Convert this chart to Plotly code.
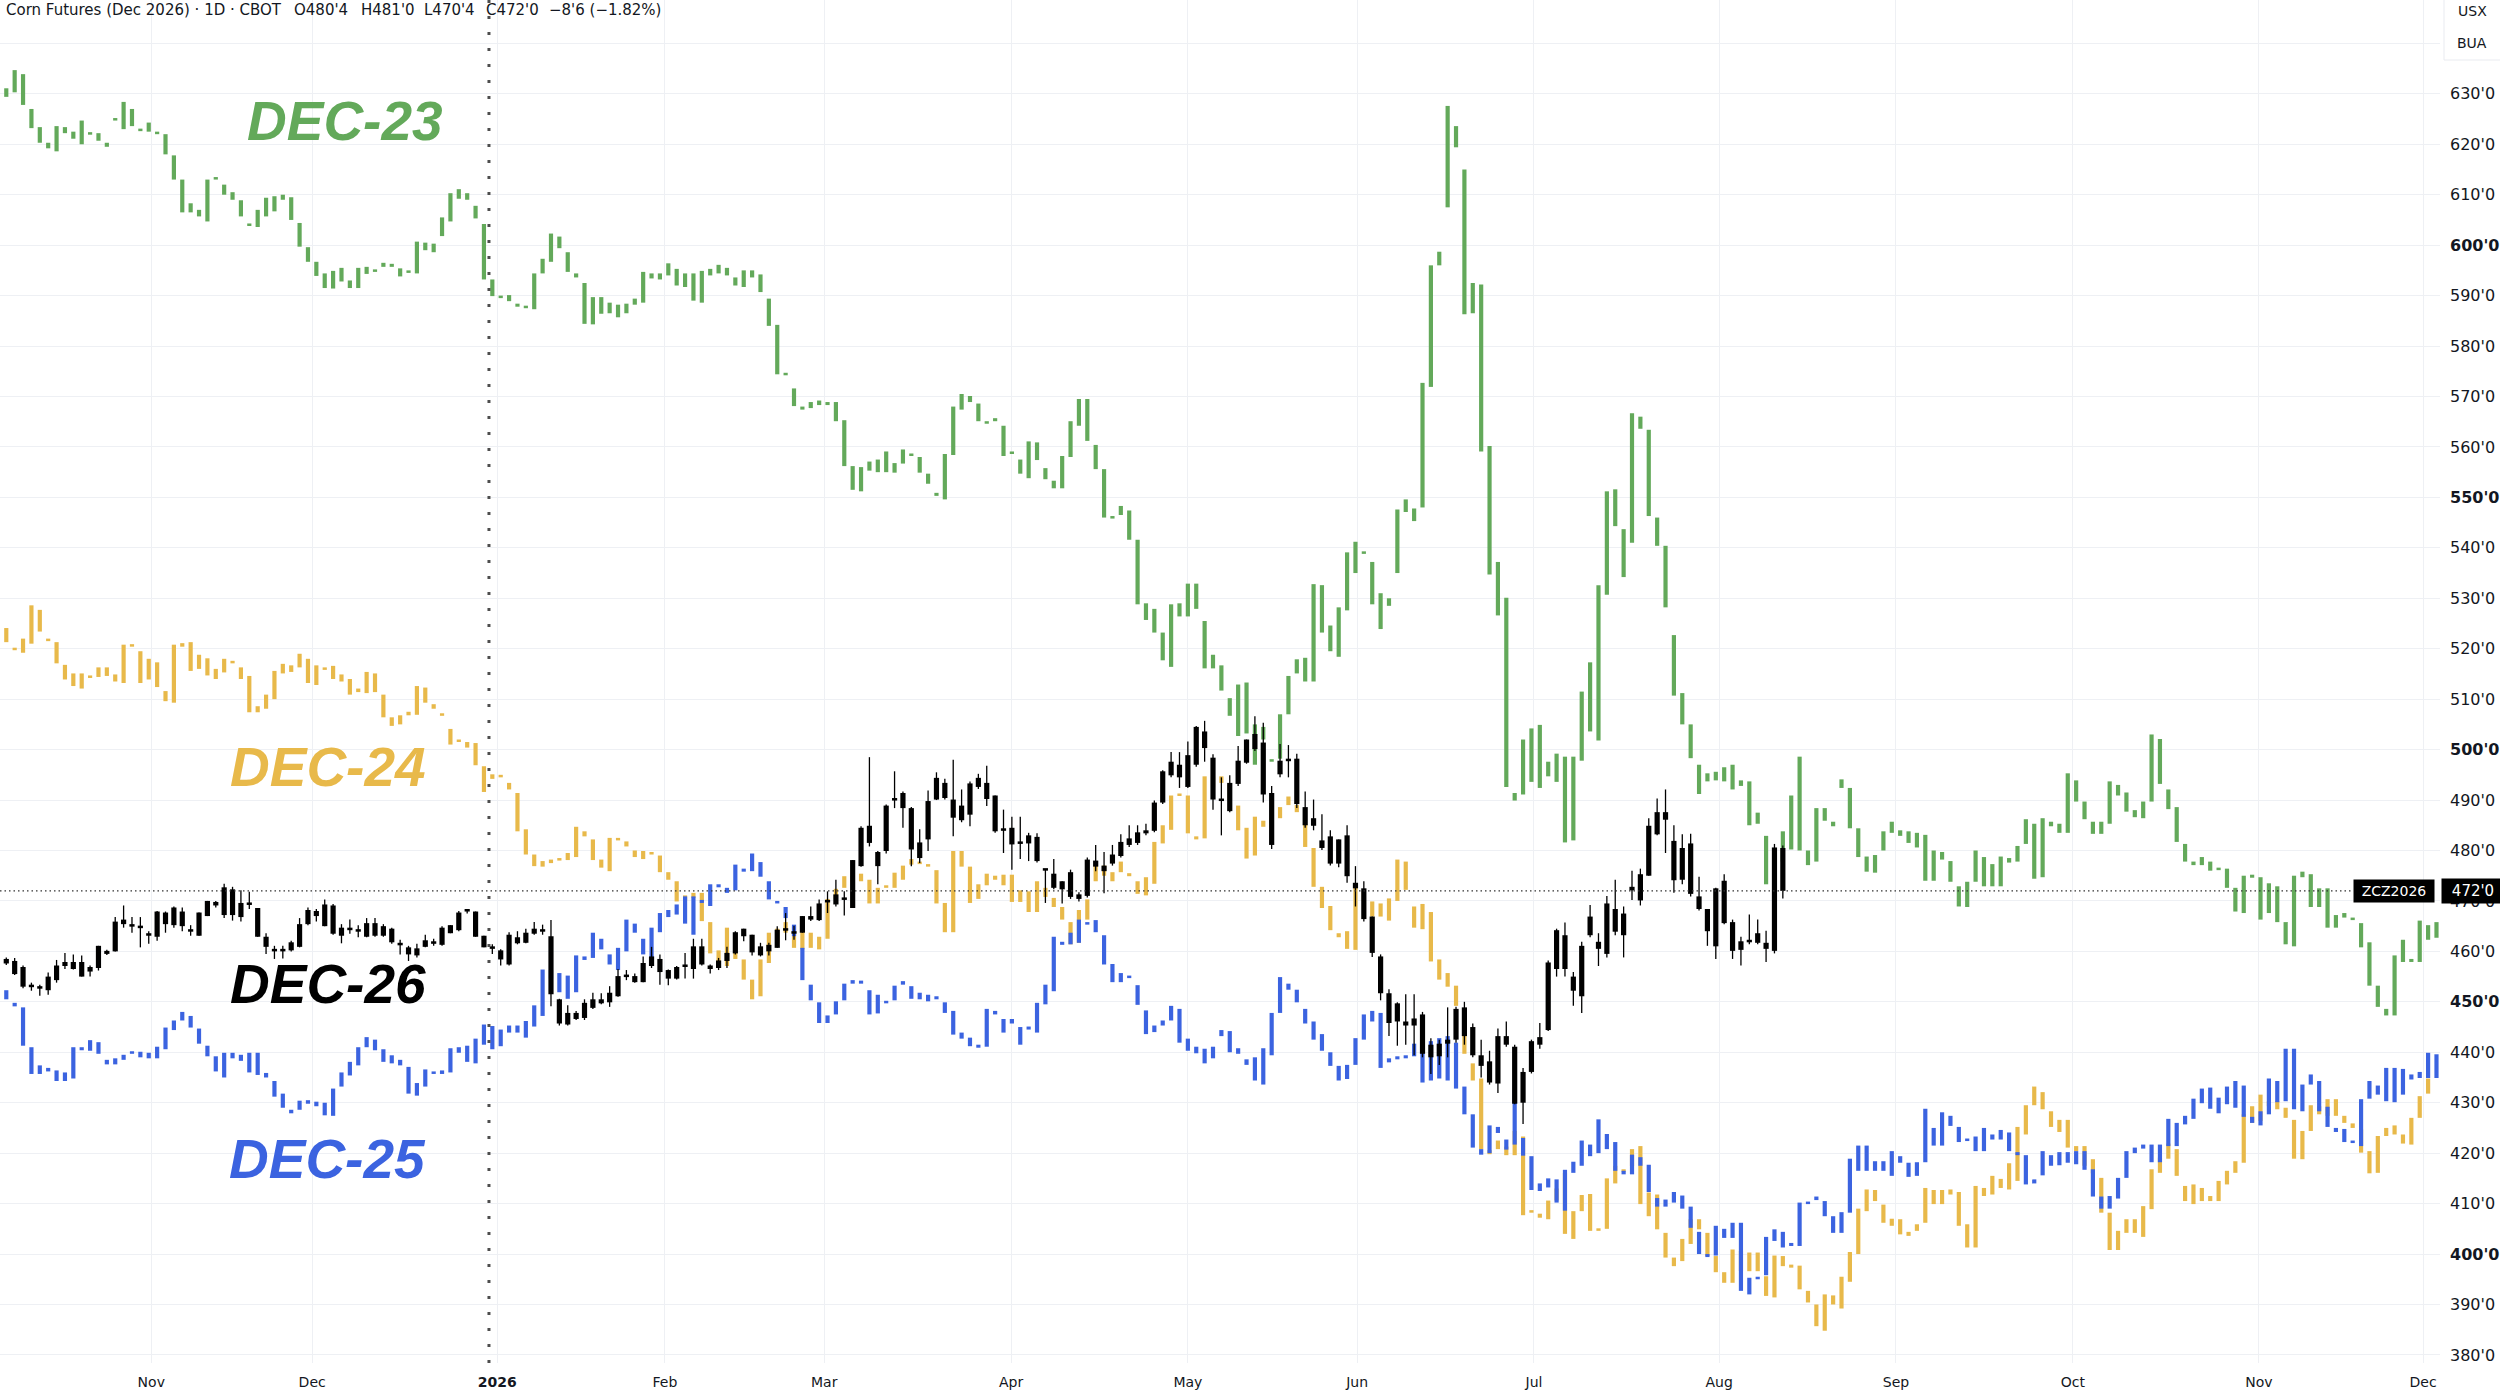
import plotly.graph_objects as go

# ---------------- DATA ----------------
# Slot = trading-day position on the shared time axis (slot 1 = first visible bar).
# Colored contracts are drawn as body-only bars: body low / body high per slot.

dec23_low = [
    629.4, 630.3, 627.8, 623.2, 620.3, 619.2, 618.6, 622.2, 621.1, 620.0,
    621.9, 620.7, 619.5, 624.7, 623.0, 623.6, 622.6, 622.5, 622.0, 618.0,
    613.0, 606.5, 606.5, 605.7, 604.7, 613.0, 610.0, 609.0, 605.7, 603.8,
    603.6, 605.7, 606.7, 609.0, 605.0, 599.7, 596.7, 593.9, 591.5, 591.4,
    592.8, 591.5, 591.5, 594.3, 594.7, 595.7, 595.7, 593.8, 594.5, 594.4,
    599.0, 598.6, 601.8, 604.7, 609.2, 609.0, 605.3, 593.2, 589.9, 589.5,
    588.9, 587.8, 587.5, 587.3, 594.4, 596.7, 599.4, 594.7, 593.6, 584.4,
    584.3, 586.4, 586.5, 585.7, 586.5, 588.2, 588.6, 593.4, 593.2, 594.0,
    592.0, 591.7, 589.0, 588.6, 594.0, 594.4, 594.0, 592.0, 591.7, 593.6,
    590.7, 584.0, 574.4, 574.2, 568.1, 567.4, 567.7, 568.3, 568.3, 565.1,
    556.2, 551.5, 551.2, 555.3, 555.0, 555.0, 554.9, 556.7, 558.2, 554.9,
    552.7, 550.3, 549.6, 558.4, 567.4, 568.9, 565.1, 564.6, 565.1, 558.2,
    558.6, 554.7, 553.8, 557.4, 553.6, 551.8, 551.8, 558.0, 564.2, 561.2,
    555.6, 546.0, 545.8, 546.5, 541.6, 528.8, 525.7, 523.2, 517.7, 516.4,
    526.4, 526.4, 527.9, 516.1, 516.1, 511.7, 506.7, 502.7, 503.2, 497.0,
    502.0, 497.6, 498.2, 507.0, 515.1, 513.5, 513.5, 523.2, 519.5, 518.4,
    527.6, 535.0, 538.8, 528.8, 523.9, 528.5, 535.0, 547.1, 545.3, 548.0,
    571.9, 596.0, 607.5, 619.4, 586.3, 586.5, 559.1, 534.7, 526.6, 492.6,
    489.9, 491.1, 493.6, 492.4, 494.7, 493.6, 481.6, 482.0, 497.8, 503.6,
    501.8, 530.7, 544.3, 534.2, 541.0, 563.6, 546.3, 540.4, 528.2, 510.7,
    505.0, 498.3, 491.2, 493.7, 493.9, 493.7, 492.1, 492.8, 485.0, 485.3,
    473.3, 472.5, 477.8, 480.2, 480.0, 477.1, 477.8, 485.9, 484.8, 492.4,
    484.4, 478.7, 475.8, 475.6, 480.0, 483.5, 482.9, 481.5, 480.6, 474.0,
    474.0, 478.2, 473.8, 468.9, 468.8, 473.8, 472.9, 472.9, 472.9, 477.6,
    477.8, 481.3, 474.4, 474.7, 484.8, 483.5, 483.5, 489.7, 486.2, 483.3,
    483.3, 485.3, 490.9, 487.7, 486.6, 486.4, 489.7, 493.2, 488.2, 481.7,
    477.8, 477.1, 477.1, 476.0, 476.1, 472.6, 467.9, 467.6, 474.6, 466.3,
    467.6, 465.8, 461.4, 461.0, 474.7, 468.8, 468.8, 464.7, 464.7, 466.7,
    466.2, 460.8, 453.2, 449.0, 447.3, 447.3, 457.9, 457.9, 457.9, 462.3, 462.7,
]
dec23_high = [
    631.1, 634.7, 633.9, 627.0, 623.4, 620.3, 623.6, 623.4, 622.5, 624.7,
    622.4, 622.2, 620.3, 625.1, 628.4, 627.0, 623.0, 624.3, 622.4, 622.0,
    617.8, 613.0, 608.3, 607.0, 613.0, 613.4, 612.0, 610.5, 608.9, 604.2,
    607.0, 609.4, 609.7, 610.0, 609.5, 604.4, 599.6, 596.7, 594.4, 594.9,
    595.5, 593.0, 595.5, 595.7, 595.1, 596.5, 596.3, 595.4, 594.9, 600.7,
    600.5, 600.3, 605.5, 610.3, 611.1, 610.3, 607.8, 604.2, 593.2, 589.9,
    590.1, 588.4, 587.9, 594.4, 597.3, 602.3, 601.7, 598.6, 594.4, 592.5,
    589.7, 589.7, 588.6, 588.2, 588.4, 589.4, 594.7, 594.4, 594.4, 596.4,
    595.3, 594.4, 594.4, 594.9, 595.3, 596.1, 595.5, 593.6, 595.0, 595.0,
    594.2, 589.4, 584.2, 574.6, 571.6, 568.0, 568.9, 569.2, 568.9, 568.9,
    565.3, 556.2, 556.0, 557.1, 557.5, 559.1, 556.8, 559.5, 558.6, 558.0,
    554.7, 550.9, 558.6, 568.0, 570.5, 570.1, 568.6, 565.0, 565.7, 564.2,
    559.1, 557.5, 561.1, 560.9, 555.8, 553.3, 558.2, 565.1, 569.5, 569.5,
    560.4, 555.6, 546.3, 548.3, 547.4, 541.6, 529.0, 527.9, 523.2, 528.8,
    529.0, 532.9, 532.9, 525.5, 518.8, 516.7, 510.2, 512.9, 513.3, 505.0,
    504.5, 498.0, 507.0, 514.6, 517.9, 518.2, 532.8, 532.6, 524.6, 528.2,
    539.1, 541.2, 539.2, 537.2, 531.0, 530.0, 547.6, 549.6, 547.8, 572.7,
    596.0, 598.7, 627.6, 623.6, 615.0, 592.5, 592.2, 560.2, 537.2, 530.1,
    491.4, 502.0, 504.2, 504.9, 497.6, 499.2, 498.6, 498.6, 511.5, 517.3,
    532.6, 551.2, 551.6, 543.7, 566.7, 566.0, 563.4, 546.0, 540.4, 522.7,
    511.2, 505.0, 497.0, 495.3, 495.6, 496.5, 497.0, 493.9, 493.7, 487.5,
    482.9, 479.4, 483.8, 490.9, 498.6, 480.0, 488.4, 488.4, 485.7, 494.1,
    492.4, 484.4, 478.8, 479.1, 483.8, 485.7, 484.0, 483.8, 483.5, 483.1,
    480.0, 479.7, 477.9, 472.9, 473.8, 480.0, 478.7, 477.3, 478.8, 478.5,
    480.9, 486.2, 485.3, 486.4, 485.7, 485.3, 495.3, 493.9, 489.7, 485.7,
    485.7, 493.7, 493.0, 491.5, 488.0, 489.7, 503.0, 502.1, 492.1, 488.6,
    481.3, 477.8, 478.7, 477.8, 476.6, 476.4, 472.6, 475.0, 475.2, 474.7,
    473.5, 472.9, 465.8, 475.0, 475.8, 475.3, 472.5, 472.5, 467.2, 467.6,
    466.6, 465.6, 461.8, 453.2, 448.6, 459.2, 462.3, 458.5, 466.1, 465.2, 465.8,
]

dec24_low = [
    521.3, 519.7, 519.2, 521.0, 523.4, 521.5, 517.1, 513.9, 512.6, 512.1,
    514.2, 514.4, 514.6, 513.5, 513.2, 520.4, 513.2, 513.9, 512.4, 509.6,
    509.3, 520.4, 515.6, 516.0, 514.7, 514.0, 515.3, 517.1, 514.0, 507.4,
    507.4, 508.1, 510.0, 515.1, 515.4, 516.3, 513.2, 512.8, 515.8, 514.0,
    513.5, 510.9, 511.4, 511.2, 511.4, 506.4, 504.7, 505.0, 506.8, 506.9,
    509.3, 508.1, 506.7, 501.0, 501.5, 500.4, 496.9, 491.6, 494.2, 494.5,
    492.1, 483.8, 479.2, 476.9, 476.8, 477.5, 478.0, 478.1, 478.7, 482.8,
    478.1, 476.6, 475.9, 482.0, 480.8, 478.7, 478.3, 479.2, 475.7, 474.2,
    469.9, 470.1, 470.6, 466.0, 459.6, 458.0, 457.1, 458.5, 454.4, 450.5,
    451.1, 457.7, 461.7, 463.7, 460.7, 460.4, 460.7, 460.4, 462.5, 470.3,
    472.6, 473.7, 473.9, 469.5, 469.5, 472.6, 472.6, 474.2, 477.2, 477.3,
    476.8, 469.5, 463.8, 463.8, 476.8, 469.6, 470.4, 473.1, 474.2, 473.1,
    469.8, 469.8, 467.8, 467.8, 470.8, 468.8, 466.3, 461.4, 461.7, 466.3,
    473.9, 475.0, 473.9, 475.7, 474.9, 471.4, 471.1, 473.4, 481.4, 484.1,
    490.8, 483.4, 482.2, 482.4, 492.5, 493.4, 490.0, 484.0, 478.4, 479.0,
    484.7, 485.5, 486.4, 489.0, 487.6, 480.7, 472.8, 468.6, 464.2, 462.8,
    460.5, 460.3, 470.0, 466.9, 466.9, 466.1, 470.0, 472.2, 464.7, 464.4,
    458.0, 454.4, 453.0, 449.2, 439.7, 434.4, 420.8, 419.8, 420.8, 419.6,
    419.6, 407.7, 408.2, 407.2, 406.9, 410.6, 404.0, 403.0, 408.5, 404.6,
    404.6, 405.0, 414.0, 416.3, 417.4,
    409.9, 407.5, 404.9, 399.3, 397.6, 398.6, 402.0, 404.9, 399.6, 396.4,
    394.3, 394.3, 396.6, 396.6, 396.6, 391.7, 391.4, 397.6, 397.3, 393.0,
    390.4, 385.7, 384.8, 390.0, 389.2, 394.5, 400.0, 408.5, 410.5, 406.2,
    405.6, 403.9, 403.6, 404.6, 406.2, 409.9, 409.9, 411.8, 405.6, 401.3,
    401.3, 411.5, 411.8, 413.1, 412.8, 414.5, 423.7, 429.5, 428.7, 425.2,
    424.2, 421.1, 420.4, 417.5, 416.0, 408.2, 400.8, 400.8, 404.2, 404.2,
    403.4, 408.9, 416.1, 418.9, 415.5, 410.5, 409.9, 410.5, 410.5, 410.5,
    413.8, 416.1, 418.1, 426.0, 426.4, 429.3, 428.7, 427.0, 418.9, 418.8,
    424.4, 427.7, 427.4, 427.4, 426.0, 425.0, 420.1, 416.0, 416.1, 423.4,
    423.7, 421.9, 421.7, 427.0, 431.8,
]
dec24_high = [
    524.1, 520.2, 522.0, 528.6, 527.7, 522.0, 521.3, 516.8, 515.1, 515.1,
    514.6, 516.3, 516.3, 514.9, 520.8, 520.8, 519.5, 518.0, 517.3, 511.6,
    520.8, 521.1, 521.3, 518.8, 518.1, 516.0, 518.0, 517.5, 516.3, 514.6,
    508.6, 510.9, 515.6, 517.0, 516.7, 519.0, 518.0, 516.7, 516.2, 516.6,
    514.9, 514.0, 512.1, 515.4, 515.1, 510.9, 506.4, 506.8, 507.5, 512.6,
    512.3, 509.0, 507.1, 504.1, 501.9, 501.5, 501.3, 496.7, 495.1, 494.9,
    493.4, 491.4, 484.2, 479.2, 477.9, 478.2, 478.4, 479.5, 484.7, 483.8,
    482.2, 478.2, 482.5, 482.4, 481.8, 480.0, 479.9, 479.5, 479.0, 475.7,
    473.9, 471.1, 471.6, 471.6, 465.8, 460.2, 464.7, 459.7, 458.4, 454.4,
    458.4, 463.7, 464.5, 465.8, 465.0, 465.0, 463.7, 462.9, 470.4, 472.4,
    474.9, 475.0, 475.4, 474.2, 472.6, 473.0, 475.6, 477.0, 478.3, 477.7,
    477.2, 476.1, 469.6, 479.9, 479.9, 476.8, 473.3, 475.4, 475.0, 475.2,
    475.2, 472.1, 471.9, 473.9, 472.6, 470.6, 468.8, 465.8, 468.2, 470.3,
    477.2, 477.0, 475.7, 477.8, 475.5, 473.9, 474.7, 481.7, 485.0, 490.9,
    491.1, 490.9, 482.8, 494.7, 494.7, 494.7, 493.0, 488.9, 484.5, 486.7,
    485.9, 486.5, 488.6, 490.7, 489.0, 485.3, 480.5, 472.8, 469.0, 463.6,
    464.0, 473.2, 472.0, 469.9, 469.5, 470.5, 478.2, 477.8, 468.9, 469.4,
    467.8, 458.4, 455.7, 453.2, 444.9, 437.8, 434.8, 420.6, 422.5, 421.3,
    424.4, 423.3, 408.6, 408.0, 410.6, 413.0, 416.1, 408.5, 411.7, 411.9,
    405.0, 415.0, 417.5, 416.7, 420.8,
    421.4, 412.2, 411.8, 404.2, 399.3, 403.0, 406.9, 406.9, 404.2, 399.6,
    396.4, 400.9, 400.6, 400.3, 400.3, 395.6, 399.7, 399.6, 397.9, 397.7,
    392.7, 390.0, 392.0, 391.8, 395.5, 400.4, 409.0, 412.8, 412.7, 409.8,
    407.0, 406.9, 404.4, 405.9, 413.1, 412.7, 412.7, 412.8, 412.3, 405.9,
    413.5, 413.1, 415.5, 414.9, 418.0, 425.2, 429.5, 433.2, 432.1, 428.3,
    426.6, 426.6, 421.4, 421.4, 418.8, 415.1, 408.2, 404.6, 406.9, 406.9,
    409.5, 416.8, 419.1, 421.9, 420.8, 413.5, 413.8, 413.1, 411.5, 414.5,
    416.5, 418.4, 427.7, 429.3, 431.6, 430.3, 430.3, 429.0, 426.6, 424.4,
    429.5, 429.3, 430.7, 430.7, 427.4, 425.9, 424.7, 420.4, 423.4, 425.0,
    425.5, 423.7, 427.0, 431.3, 434.8,
]

dec25_low = [
    450.5, 449.1, 441.3, 435.7, 435.7, 436.2, 434.3, 434.3, 434.8, 440.4,
    440.3, 439.7, 437.6, 437.6, 438.5, 439.7, 439.0, 438.8, 438.8, 440.6,
    444.4, 446.3, 444.9, 441.7, 439.2, 436.2, 435.0, 438.8, 438.3, 436.0,
    435.5, 435.0, 431.2, 429.0, 427.9, 428.6, 429.8, 429.3, 427.5, 427.4,
    433.2, 435.4, 437.4, 441.0, 440.4, 438.1, 437.8, 437.4, 431.8, 431.4,
    433.2, 435.7, 435.7, 436.0, 439.9, 438.1, 437.8, 441.5, 440.6, 441.2,
    443.9, 443.9, 442.9, 445.1, 447.2, 454.6, 451.9, 450.6, 451.9, 458.3,
    458.7, 460.4, 457.4, 456.3, 460.0, 463.7, 459.4, 458.4, 463.8, 466.8,
    467.3, 465.5, 463.3, 469.6, 469.0, 472.7, 471.6, 472.1, 475.8, 475.9,
    474.8, 470.3, 469.5, 466.6, 463.0, 454.3, 450.3, 445.8, 445.8, 447.5,
    450.3, 453.6, 453.6, 447.5, 447.7, 449.7, 450.3, 453.4, 450.6, 450.5,
    450.1, 450.5, 447.8, 443.5, 442.7, 441.2, 440.9, 441.1, 447.5, 443.9,
    445.7, 441.5, 444.5, 443.9, 449.5, 452.1, 461.3, 461.4, 461.7, 465.3,
    463.8, 457.4, 453.9, 453.9, 454.7, 449.4, 443.6, 444.0, 445.3, 446.3,
    441.9, 440.3, 439.8, 437.8, 438.8, 443.2, 440.0, 439.7, 437.5, 434.4,
    433.6, 439.4, 447.8, 452.4, 449.9, 445.7, 442.5, 440.3, 437.3, 434.4,
    434.7, 437.5, 442.5, 446.1, 436.9, 438.0, 438.6, 438.8, 439.2, 434.0,
    434.4, 434.8, 434.4, 432.8, 427.7, 421.1, 419.7, 420.0, 424.0, 420.7,
    421.7, 419.5, 412.7, 412.5, 413.2, 410.2, 408.6, 416.1, 417.5, 419.4,
    420.0, 420.8, 416.5, 415.8, 415.8, 417.5, 412.3, 409.4, 409.4, 410.2,
    409.0, 405.2, 400.0, 399.4, 399.7, 403.2, 403.2, 392.7, 392.0, 395.0,
    395.8, 402.6, 401.3, 401.6, 401.6, 409.9, 410.7, 407.5, 404.2, 404.2,
    408.2, 416.5, 416.5, 416.5, 416.5, 415.5, 418.1, 415.3, 415.5, 418.2,
    421.5, 421.5, 425.4, 422.2, 422.4, 420.4, 420.4, 422.7, 422.7, 420.4,
    419.6, 413.8, 414.0, 415.6, 417.5, 417.6, 418.1, 417.8, 416.7, 411.4,
    409.0, 409.0, 411.0, 415.1, 420.0, 420.9, 418.2, 418.2, 421.4, 421.4,
    425.7, 426.8, 429.9, 428.8, 427.9, 429.7, 429.0, 427.2, 426.0, 425.5,
    427.7, 430.1, 430.3, 428.7, 428.3, 433.6, 428.3, 425.2, 424.2, 422.2,
    422.0, 421.4, 430.8, 431.6, 430.3, 430.1, 431.6, 434.6, 434.9, 434.9, 434.9,
]
dec25_high = [
    452.3, 449.8, 448.9, 441.0, 437.4, 436.9, 436.4, 436.0, 441.0, 441.0,
    442.4, 442.0, 438.5, 438.8, 439.5, 440.1, 440.1, 439.9, 441.1, 444.9,
    446.3, 448.0, 447.2, 444.7, 441.3, 439.2, 439.9, 439.9, 439.5, 439.9,
    439.9, 435.9, 434.3, 431.8, 428.6, 430.4, 430.5, 430.2, 430.0, 432.8,
    436.0, 438.1, 441.0, 443.0, 442.5, 440.6, 439.4, 438.5, 437.1, 433.9,
    436.6, 436.2, 436.4, 440.8, 441.0, 441.3, 442.7, 445.5, 445.2, 444.5,
    445.3, 445.3, 446.2, 449.3, 456.4, 456.3, 455.7, 455.2, 459.2, 459.0,
    463.7, 462.5, 459.4, 460.7, 466.3, 465.5, 462.5, 464.7, 467.6, 468.2,
    469.3, 470.9, 470.9, 470.2, 473.3, 473.3, 472.6, 477.2, 476.4, 479.4,
    477.7, 473.9, 469.8, 468.8, 465.3, 460.7, 453.4, 449.9, 447.3, 450.1,
    453.6, 454.3, 454.2, 452.3, 451.4, 450.1, 453.2, 454.1, 453.1, 451.8,
    451.4, 451.1, 449.9, 448.2, 443.9, 442.9, 441.5, 448.6, 448.2, 446.6,
    446.6, 445.0, 445.1, 449.8, 453.4, 462.9, 461.9, 463.7, 466.3, 465.7,
    466.2, 463.2, 457.5, 455.7, 455.1, 453.3, 448.3, 445.3, 446.3, 449.2,
    448.6, 442.7, 441.1, 440.7, 441.1, 444.4, 444.2, 440.8, 438.6, 439.0,
    440.8, 447.8, 454.9, 453.6, 452.4, 448.6, 446.1, 443.6, 440.0, 437.3,
    437.5, 442.8, 447.5, 448.2, 447.8, 438.8, 439.2, 439.4, 441.7, 441.9,
    442.2, 442.8, 443.2, 441.9, 433.2, 427.7, 420.8, 425.5, 425.2, 422.7,
    432.5, 423.0, 419.4, 414.0, 415.0, 414.8, 416.7, 418.3, 422.5, 421.7,
    426.7, 423.8, 422.2, 416.5, 419.7, 419.2, 417.7, 411.1, 410.8, 412.3,
    411.6, 409.4, 404.4, 400.0, 405.6, 405.0, 406.2, 406.2, 395.3, 395.4,
    403.4, 404.9, 404.4, 402.2, 410.2, 410.2, 411.4, 410.5, 407.5, 408.3,
    418.9, 421.5, 421.5, 418.4, 418.4, 420.4, 419.4, 418.1, 418.2, 428.8,
    425.0, 428.1, 427.4, 425.2, 422.7, 423.3, 425.0, 423.7, 424.6, 424.1,
    420.2, 419.6, 414.8, 420.4, 419.6, 420.2, 420.2, 420.4, 420.4, 416.8,
    411.4, 411.5, 415.1, 420.4, 421.1, 421.7, 421.7, 421.7, 426.8, 426.0,
    427.4, 430.8, 432.8, 433.0, 431.0, 433.2, 434.3, 433.4, 427.2, 428.3,
    434.8, 434.3, 440.7, 440.7, 433.6, 435.6, 434.3, 429.2, 425.0, 424.8,
    422.2, 430.7, 434.3, 433.4, 436.9, 436.9, 436.7, 435.6, 436.1, 439.9, 439.6,
]

# DEC-26 (main contract, black candles): body top / body bottom / high / low
dec26_body_top = [
    458.5, 458.1, 456.9, 453.2, 452.9, 455.0, 457.2, 457.9, 457.9, 457.9,
    456.9, 461.1, 460.1, 465.9, 466.3, 465.2, 464.9, 463.6, 467.9, 467.7,
    468.7, 467.9, 464.2, 467.7, 470.0, 469.8, 472.7, 472.3, 469.6, 469.5,
    468.6, 462.9, 460.3, 460.3, 461.8, 465.4, 468.2, 468.0, 469.3, 469.1,
    464.7, 464.5, 464.2, 465.6, 465.6, 465.0, 464.5, 461.5, 460.8, 460.6,
    462.2, 461.8, 464.7, 465.2, 467.7, 468.2, 467.9, 463.1, 460.8, 460.2,
    463.3, 462.8, 463.7, 464.5, 464.1, 463.0, 450.5, 447.8, 447.8, 449.8,
    450.5, 450.5, 451.8, 455.1, 455.2, 455.1, 457.7, 459.0, 458.5, 456.3,
    456.9, 457.2, 461.0, 461.0, 457.2, 458.2, 459.7, 463.8, 464.5, 463.3,
    461.0, 461.3, 464.3, 464.4, 463.8, 467.0, 467.0, 469.5, 470.0, 471.3,
    470.5, 478.1, 484.5, 484.9, 479.7, 488.9, 490.2, 491.4, 488.4, 481.6,
    489.8, 494.4, 493.4, 490.1, 488.9, 493.3, 494.4, 493.4, 490.9, 484.1,
    484.5, 481.5, 483.0, 482.7, 476.2, 475.4, 473.9, 475.7, 471.3, 478.2,
    478.0, 477.0, 479.2, 481.7, 482.4, 483.6, 484.0, 489.5, 495.7, 497.6,
    497.0, 498.9, 504.5, 503.6, 498.4, 490.1, 493.4, 497.8, 502.0, 503.1,
    501.4, 491.4, 497.8, 498.0, 498.2, 488.6, 486.4, 482.0, 482.8, 482.2,
    483.0, 473.6, 472.5, 466.9, 459.0, 451.7, 449.7, 446.1, 446.7, 447.5,
    441.5, 441.7, 442.5, 448.6, 448.9, 445.0, 439.4, 438.2, 443.2, 443.2,
    441.1, 436.1, 442.2, 443.0, 457.8, 464.2, 463.2, 455.0, 461.1, 466.9,
    461.9, 469.5, 468.4, 467.5, 472.8, 475.3, 484.9, 487.6, 487.6, 481.9,
    480.5, 481.4, 470.9, 468.4, 472.5, 474.0, 465.8, 462.0, 462.1, 463.6,
    461.7, 480.6, 480.5,
]
dec26_body_bot = [
    457.6, 455.5, 453.0, 452.9, 452.6, 452.3, 454.3, 457.1, 456.5, 455.0,
    456.0, 456.7, 459.5, 460.0, 465.4, 464.9, 464.6, 463.1, 462.9, 465.4,
    465.2, 465.0, 463.9, 463.1, 467.0, 469.1, 467.2, 467.2, 466.8, 469.2,
    462.9, 460.9, 460.0, 460.0, 460.2, 460.9, 465.4, 467.0, 465.0, 463.5,
    463.1, 464.2, 463.9, 462.9, 463.1, 463.1, 461.8, 461.2, 459.4, 459.2,
    460.9, 461.5, 461.3, 463.6, 464.2, 467.9, 462.9, 460.8, 460.5, 458.4,
    457.4, 461.6, 461.7, 463.5, 463.9, 451.5, 445.7, 445.5, 446.6, 446.8,
    448.8, 449.7, 449.9, 451.1, 454.9, 453.9, 453.9, 457.1, 455.9, 454.6,
    454.6, 456.9, 456.5, 457.4, 456.5, 456.7, 458.1, 459.6, 463.0, 459.8,
    459.2, 460.0, 460.7, 464.1, 463.5, 463.7, 466.3, 466.2, 469.7, 469.3,
    470.2, 468.6, 476.9, 481.5, 476.9, 479.9, 489.9, 488.4, 480.2, 478.5,
    482.2, 490.1, 490.4, 486.5, 486.0, 487.1, 492.6, 490.2, 483.8, 483.9,
    481.2, 481.3, 481.4, 477.9, 476.0, 472.6, 472.3, 470.8, 470.4, 471.0,
    476.8, 475.9, 477.4, 478.9, 481.1, 481.5, 483.4, 483.9, 489.5, 494.9,
    494.5, 492.6, 497.0, 500.3, 490.1, 489.8, 487.8, 493.2, 497.4, 500.1,
    491.1, 481.1, 495.1, 497.7, 489.2, 485.0, 484.9, 480.5, 477.4, 477.4,
    474.9, 472.5, 466.4, 459.7, 451.7, 445.8, 446.1, 445.3, 445.3, 439.7,
    439.0, 439.2, 441.7, 442.5, 443.2, 439.4, 437.3, 434.0, 433.8, 441.5,
    429.8, 430.0, 436.1, 441.5, 444.4, 456.5, 456.5, 452.2, 451.1, 463.2,
    460.5, 459.5, 463.9, 463.2, 472.1, 470.1, 475.0, 483.2, 486.1, 474.1,
    474.2, 471.4, 468.4, 464.0, 461.0, 465.6, 460.1, 460.3, 461.8, 461.7,
    460.5, 460.1, 472.0,
]
dec26_high = [
    458.8, 458.7, 457.2, 453.8, 453.4, 455.8, 458.3, 459.7, 459.4, 459.2,
    457.2, 461.1, 460.3, 466.8, 469.1, 466.8, 466.8, 464.0, 468.0, 467.9,
    468.9, 468.7, 465.2, 467.7, 470.0, 470.0, 473.4, 472.8, 472.1, 471.8,
    468.6, 463.6, 461.1, 461.1, 462.1, 466.6, 468.7, 468.4, 470.3, 469.4,
    465.4, 466.3, 465.2, 466.6, 466.6, 465.4, 464.7, 462.3, 461.1, 461.5,
    463.3, 462.5, 465.0, 465.2, 468.0, 468.4, 467.9, 463.1, 461.4, 460.4,
    463.8, 464.0, 464.5, 465.8, 465.3, 466.2, 450.6, 449.3, 448.2, 450.5,
    451.8, 451.7, 453.1, 456.5, 456.3, 455.6, 459.0, 460.9, 459.4, 456.4,
    457.1, 459.7, 462.5, 462.5, 457.4, 458.7, 460.9, 464.0, 464.5, 463.3,
    461.7, 461.7, 465.0, 467.6, 465.1, 467.0, 468.9, 470.3, 471.9, 474.2,
    471.9, 478.1, 484.8, 498.5, 479.9, 489.1, 495.7, 491.7, 488.6, 484.2,
    491.9, 495.5, 494.2, 498.0, 492.1, 493.7, 495.2, 496.8, 490.9, 488.1,
    486.7, 486.7, 483.5, 483.4, 476.3, 478.3, 473.9, 476.2, 471.7, 478.6,
    481.1, 479.7, 481.1, 483.2, 485.0, 485.0, 485.3, 489.9, 495.9, 499.5,
    499.5, 501.6, 504.7, 505.7, 499.1, 494.5, 494.9, 500.7, 502.0, 506.6,
    505.3, 492.8, 501.1, 500.9, 499.2, 491.7, 490.1, 487.2, 484.0, 482.2,
    485.0, 476.9, 473.9, 466.9, 459.4, 452.5, 449.9, 451.5, 451.5, 448.0,
    442.8, 442.5, 448.9, 449.0, 450.0, 445.7, 442.5, 440.3, 444.7, 446.1,
    441.5, 436.9, 442.5, 445.8, 458.2, 464.5, 465.7, 455.9, 461.9, 469.2,
    463.6, 471.0, 474.2, 468.9, 476.0, 476.4, 486.4, 490.3, 492.1, 485.0,
    483.2, 483.3, 474.8, 468.4, 472.6, 475.3, 466.3, 462.9, 467.3, 466.3,
    464.1, 481.3, 481.0,
]
dec26_low = [
    457.3, 455.3, 452.7, 452.2, 451.2, 451.4, 453.8, 456.5, 456.4, 455.0,
    455.0, 456.2, 459.3, 460.0, 464.7, 463.7, 460.8, 461.5, 462.1, 463.7,
    464.7, 464.0, 463.1, 463.1, 467.0, 468.7, 466.6, 466.1, 465.9, 468.4,
    462.9, 459.5, 458.5, 458.6, 460.0, 460.8, 465.2, 465.9, 465.0, 463.3,
    461.6, 463.5, 462.8, 462.8, 462.9, 462.9, 461.5, 459.4, 458.1, 458.8,
    460.8, 461.1, 461.1, 463.6, 464.0, 467.5, 462.9, 460.8, 459.5, 457.2,
    457.2, 461.4, 461.6, 463.3, 463.3, 449.1, 445.3, 445.3, 446.4, 446.4,
    448.6, 449.5, 449.0, 451.0, 454.3, 453.8, 453.9, 456.7, 453.4, 453.3,
    454.4, 454.6, 454.6, 457.2, 455.6, 456.3, 456.7, 459.4, 462.0, 459.2,
    459.0, 459.2, 460.7, 462.2, 462.3, 463.7, 466.0, 466.0, 467.6, 468.9,
    467.1, 468.6, 476.8, 480.8, 473.3, 479.4, 488.4, 484.5, 476.9, 477.5,
    479.9, 490.0, 490.1, 482.8, 485.6, 484.8, 492.2, 488.8, 483.5, 479.5,
    476.2, 478.3, 477.9, 477.6, 469.6, 472.3, 469.5, 470.4, 469.9, 470.7,
    475.9, 471.5, 477.0, 478.6, 480.7, 481.1, 483.0, 483.6, 489.2, 494.5,
    492.4, 492.4, 496.6, 497.6, 488.1, 483.0, 487.6, 492.8, 497.2, 499.7,
    489.5, 480.3, 494.5, 494.5, 488.4, 484.5, 484.0, 480.1, 477.0, 476.7,
    473.6, 468.9, 465.9, 458.9, 450.3, 443.2, 441.3, 441.5, 439.4, 439.0,
    435.7, 437.5, 439.0, 441.9, 441.5, 439.0, 435.0, 433.6, 431.9, 441.1,
    429.7, 425.8, 435.8, 440.7, 444.2, 455.0, 455.0, 449.2, 447.8, 462.8,
    457.1, 458.8, 463.2, 458.8, 470.2, 469.1, 475.0, 483.0, 479.5, 471.6,
    473.3, 470.9, 468.1, 461.1, 458.5, 465.4, 458.5, 457.2, 461.4, 461.4,
    457.9, 459.6, 470.5,
]

# Time axis: month labels at their slot positions
month_pos = [18.3, 37.5, 59.6, 79.6, 98.6, 120.9, 142.0, 162.2, 183.3, 205.4,
             226.5, 247.6, 269.8, 289.4]
month_text = ["Nov", "Dec", "<b>2026</b>", "Feb", "Mar", "Apr", "May", "Jun",
              "Jul", "Aug", "Sep", "Oct", "Nov", "Dec"]
year_break_slot = 58.6

grid_prices = list(range(380, 650, 10))        # horizontal grid every 10
labelled_prices = list(range(380, 640, 10))    # 640 sits under the unit box
last_price = 472.0
last_price_text = "472'0"
symbol = "ZCZ2026"

header_items = [
    ("Corn Futures (Dec 2026) \u00b7 1D \u00b7 CBOT", 4),
    ("O480'4", 292), ("H481'0", 359), ("L470'4", 422), ("C472'0", 484),
    ("\u22128'6 (\u22121.82%)", 547),
]

labels = [  # text, colour, centre px (x, y)
    ("DEC-23", "#63a95a", 345, 121),
    ("DEC-24", "#e8b94a", 328, 767),
    ("DEC-26", "#000000", 328, 984),
    ("DEC-25", "#3b63e0", 327, 1159),
]

GREEN, GOLD, BLUE = "#63a95a", "#e8b94a", "#3b63e0"

# ---------------- FIGURE ----------------
W, H = 2500, 1397
ML, MR, MT, MB = 0, 60, 0, 34
PW, PH = W - ML - MR, H - MT - MB


def px_x(px):
    return px / PW


def px_y(py):
    return 1 - py / PH


def body_bars(lo, hi, color, width):
    slots = list(range(1, len(lo) + 1))
    heights = [max(h - l, 0.5) for l, h in zip(lo, hi)]
    return go.Bar(x=slots, y=heights, base=lo, width=width,
                  marker=dict(color=color, line=dict(width=0)),
                  hoverinfo="skip", showlegend=False)


fig = go.Figure()
fig.add_trace(body_bars(dec23_low, dec23_high, GREEN, 0.5))
fig.add_trace(body_bars(dec24_low, dec24_high, GOLD, 0.5))
fig.add_trace(body_bars(dec25_low, dec25_high, BLUE, 0.5))

wx, wy = [], []
for i, (hi, lo) in enumerate(zip(dec26_high, dec26_low), start=1):
    wx += [i, i, None]
    wy += [lo, hi, None]
fig.add_trace(go.Scatter(x=wx, y=wy, mode="lines",
                         line=dict(color="#000000", width=1.3),
                         hoverinfo="skip", showlegend=False))
fig.add_trace(body_bars(dec26_body_bot, dec26_body_top, "#000000", 0.62))

grid = "#eef0f4"
ytext = []
for v in grid_prices:
    if v not in labelled_prices:
        ytext.append("")
    elif v % 50 == 0:
        ytext.append(f"<b>{v}'0</b>")
    else:
        ytext.append(f"{v}'0")

fig.update_layout(
    width=W, height=H,
    margin=dict(l=ML, r=MR, t=MT, b=MB),
    paper_bgcolor="white", plot_bgcolor="white",
    barmode="overlay", showlegend=False,
    font=dict(family="DejaVu Sans", color="#131722"),
    xaxis=dict(range=[0.25, 291.42], tickmode="array", tickvals=month_pos,
               ticktext=month_text, showgrid=True, gridcolor=grid, gridwidth=1,
               zeroline=False, showline=False, ticks="",
               tickfont=dict(size=14, color="#131722"), ticklabelstandoff=9,
               fixedrange=True),
    yaxis=dict(side="right", range=[378.4, 648.6], tickmode="array",
               tickvals=grid_prices, ticktext=ytext,
               showgrid=True, gridcolor=grid, gridwidth=1, zeroline=False,
               showline=False, ticks="", tickfont=dict(size=16, color="#131722"),
               ticklabelstandoff=9, fixedrange=True),
)

shapes = [
    dict(type="line", xref="x", yref="paper", x0=year_break_slot, x1=year_break_slot,
         y0=0, y1=1, line=dict(color="#4d4d4d", width=3, dash="3px,13px"), layer="above"),
    dict(type="line", xref="paper", yref="y", x0=0, x1=px_x(2353), y0=last_price,
         y1=last_price, line=dict(color="#333333", width=1.3, dash="1.5px,3px"),
         layer="above"),
    dict(type="rect", xref="paper", yref="paper", x0=px_x(2444), x1=px_x(2520),
         y0=px_y(60), y1=px_y(-5), line=dict(color="#e9ebf0", width=1),
         fillcolor="white", layer="above"),
    dict(type="rect", xref="paper", yref="paper", x0=px_x(2438), x1=px_x(2520),
         y0=px_y(PH + 40), y1=px_y(PH + 1), line=dict(width=0),
         fillcolor="white", layer="above"),
]
fig.update_layout(shapes=shapes)

ann = []
for text, x0 in header_items:
    ann.append(dict(x=px_x(x0), y=px_y(10), xref="paper", yref="paper", text=text,
                    showarrow=False, xanchor="left", yanchor="middle",
                    font=dict(size=15, color="#131722", family="DejaVu Sans")))
for text, col, cx, cy in labels:
    ann.append(dict(x=px_x(cx), y=px_y(cy), xref="paper", yref="paper", text=text,
                    showarrow=False, xanchor="center", yanchor="middle",
                    font=dict(size=55, color=col, family="Liberation Sans",
                              weight="bold", style="italic")))
ann.append(dict(x=px_x(2394), y=last_price, xref="paper", yref="y", text=symbol,
                showarrow=False, xanchor="center", yanchor="middle", width=74,
                bgcolor="#000000", borderpad=3,
                font=dict(size=14, color="white", family="DejaVu Sans")))
ann.append(dict(x=px_x(2441), y=last_price, xref="paper", yref="y",
                text=last_price_text, showarrow=False, xanchor="left",
                yanchor="middle", width=56, align="center", bgcolor="#000000",
                borderpad=3, font=dict(size=15, color="white", family="DejaVu Sans")))
ann.append(dict(x=px_x(2472), y=px_y(11), xref="paper", yref="paper", text="USX",
                showarrow=False, xanchor="center", yanchor="middle",
                font=dict(size=14, color="#131722")))
ann.append(dict(x=px_x(2472), y=px_y(43), xref="paper", yref="paper", text="BUA",
                showarrow=False, xanchor="center", yanchor="middle",
                font=dict(size=14, color="#131722")))
fig.update_layout(annotations=ann)

fig.write_html("out.html", include_plotlyjs=True, full_html=True,
               config={"displayModeBar": False, "responsive": False},
               post_script="document.body.style.margin='0';document.body.style.overflow='hidden';")
